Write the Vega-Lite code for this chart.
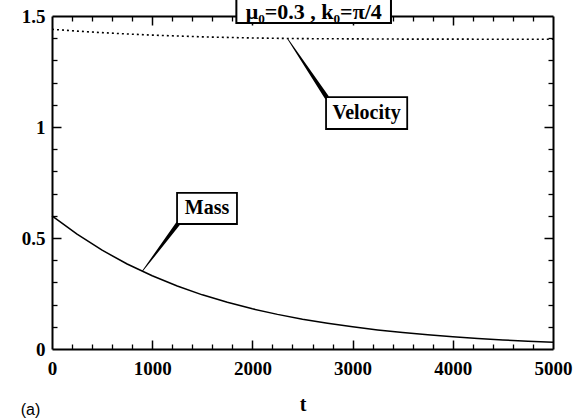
{
  "$schema": "https://vega.github.io/schema/vega-lite/v6.json",
  "width": 501,
  "height": 333,
  "autosize": "none",
  "padding": {"left": 52, "top": 16, "right": 26, "bottom": 69},
  "background": "white",
  "config": {"view": {"stroke": null}, "axis": {"grid": false}},
  "datasets": {
    "vel": [
      {"t": 0, "v": 1.440}, {"t": 250, "v": 1.432}, {"t": 500, "v": 1.425}, {"t": 750, "v": 1.419},
      {"t": 1000, "v": 1.414}, {"t": 1500, "v": 1.406}, {"t": 2000, "v": 1.401}, {"t": 2500, "v": 1.398},
      {"t": 3000, "v": 1.397}, {"t": 3500, "v": 1.396}, {"t": 4000, "v": 1.396}, {"t": 4500, "v": 1.395},
      {"t": 5000, "v": 1.395}
    ],
    "mass": [
      {"t": 0, "m": 0.600}, {"t": 250, "m": 0.517}, {"t": 500, "m": 0.445}, {"t": 750, "m": 0.383},
      {"t": 1000, "m": 0.330}, {"t": 1250, "m": 0.284}, {"t": 1500, "m": 0.244}, {"t": 1750, "m": 0.211},
      {"t": 2000, "m": 0.181}, {"t": 2250, "m": 0.156}, {"t": 2500, "m": 0.134}, {"t": 2750, "m": 0.116},
      {"t": 3000, "m": 0.100}, {"t": 3250, "m": 0.086}, {"t": 3500, "m": 0.074}, {"t": 3750, "m": 0.064},
      {"t": 4000, "m": 0.055}, {"t": 4250, "m": 0.047}, {"t": 4500, "m": 0.041}, {"t": 4750, "m": 0.035},
      {"t": 5000, "m": 0.030}
    ],
    "pointers": [
      {"id": "Velocity", "part": "tip", "t": 2355, "y": 1.395},
      {"id": "Velocity", "part": "base", "t": 2740, "y": 1.135},
      {"id": "Mass", "part": "tip", "t": 905, "y": 0.352},
      {"id": "Mass", "part": "base", "t": 1255, "y": 0.563}
    ],
    "boxes": [
      {"label": "Velocity", "t1": 2735, "t2": 3545, "y1": 0.991, "y2": 1.135, "tc": 3140, "yc": 1.063},
      {"label": "Mass", "t1": 1248, "t2": 1846, "y1": 0.563, "y2": 0.703, "tc": 1547, "yc": 0.633}
    ],
    "header": [
      {"label": "μ₀=0.3 , k₀=π/4", "t1": 1840, "t2": 3383, "y1": 1.468, "y2": 1.62, "tc": 2612, "yc": 1.516}
    ],
    "panel": [
      {"label": "(a)", "t": -215, "y": -0.238}
    ]
  },
  "layer": [
    {
      "data": {"name": "vel"},
      "mark": {"type": "line", "color": "black", "strokeWidth": 1.6, "strokeDash": [2, 3]},
      "encoding": {
        "x": {"field": "t", "type": "quantitative",
          "scale": {"domain": [0, 5000], "nice": false, "zero": false},
          "axis": {"orient": "bottom", "values": [0, 1000, 2000, 3000, 4000, 5000], "ticks": false,
            "domain": true, "domainColor": "black", "domainWidth": 2,
            "labelFont": "Liberation Serif, DejaVu Serif, serif", "labelFontWeight": "bold", "labelFontSize": 19, "labelColor": "black",
            "labelPadding": 10, "labelFlush": false, "format": "d",
            "title": "t", "titleFont": "Liberation Serif, DejaVu Serif, serif", "titleFontWeight": "bold", "titleFontSize": 20,
            "titleColor": "black", "titlePadding": 16}},
        "y": {"field": "v", "type": "quantitative",
          "scale": {"domain": [0, 1.5], "nice": false, "zero": false},
          "axis": {"orient": "left", "values": [0, 0.5, 1, 1.5], "ticks": false, "format": "~g",
            "domain": true, "domainColor": "black", "domainWidth": 2,
            "labelFont": "Liberation Serif, DejaVu Serif, serif", "labelFontWeight": "bold", "labelFontSize": 19, "labelColor": "black",
            "labelPadding": 7, "labelFlush": false, "title": null}}
      }
    },
    {
      "data": {"name": "mass"},
      "mark": {"type": "line", "color": "black", "strokeWidth": 1.5},
      "encoding": {
        "x": {"field": "t", "type": "quantitative",
          "scale": {"domain": [0, 5000], "nice": false, "zero": false},
          "axis": {"orient": "bottom", "values": [1000, 2000, 3000, 4000], "labels": false, "domain": false,
            "tickSize": -9, "tickColor": "black", "tickWidth": 1.5, "title": null}},
        "y": {"field": "m", "type": "quantitative",
          "scale": {"domain": [0, 1.5], "nice": false, "zero": false},
          "axis": {"orient": "left", "values": [0.5, 1], "labels": false, "domain": false,
            "tickSize": -9, "tickColor": "black", "tickWidth": 1.5, "title": null}}
      }
    },
    {
      "data": {"name": "pointers"},
      "mark": {"type": "trail", "color": "black"},
      "encoding": {
        "x": {"field": "t", "type": "quantitative",
          "scale": {"domain": [0, 5000], "nice": false, "zero": false},
          "axis": {"orient": "bottom",
            "values": [200, 400, 600, 800, 1200, 1400, 1600, 1800, 2200, 2400, 2600, 2800, 3200, 3400, 3600, 3800, 4200, 4400, 4600, 4800],
            "labels": false, "domain": false, "tickSize": -5, "tickColor": "black", "tickWidth": 1.3, "title": null}},
        "y": {"field": "y", "type": "quantitative",
          "scale": {"domain": [0, 1.5], "nice": false, "zero": false},
          "axis": {"orient": "left", "values": [0.1, 0.2, 0.3, 0.4, 0.6, 0.7, 0.8, 0.9, 1.1, 1.2, 1.3, 1.4],
            "labels": false, "domain": false, "tickSize": -5, "tickColor": "black", "tickWidth": 1.3, "title": null}},
        "detail": {"field": "id"},
        "size": {"field": "part", "type": "ordinal", "scale": {"domain": ["tip", "base"], "range": [0.8, 4.5]}, "legend": null}
      }
    },
    {
      "data": {"name": "boxes"},
      "mark": {"type": "rect", "fill": "white", "stroke": "black", "strokeWidth": 1.8},
      "encoding": {
        "x": {"field": "t1", "type": "quantitative",
          "scale": {"domain": [0, 5000], "nice": false, "zero": false},
          "axis": {"orient": "top", "values": [1000, 2000, 3000, 4000], "labels": false,
            "domain": true, "domainColor": "black", "domainWidth": 2,
            "tickSize": -9, "tickColor": "black", "tickWidth": 1.5, "title": null}},
        "x2": {"field": "t2"},
        "y": {"field": "y1", "type": "quantitative",
          "scale": {"domain": [0, 1.5], "nice": false, "zero": false},
          "axis": {"orient": "right", "values": [0.5, 1], "labels": false,
            "domain": true, "domainColor": "black", "domainWidth": 2,
            "tickSize": -9, "tickColor": "black", "tickWidth": 1.5, "title": null}},
        "y2": {"field": "y2"}
      }
    },
    {
      "data": {"name": "boxes"},
      "mark": {"type": "text", "font": "Liberation Serif, DejaVu Serif, serif", "fontWeight": "bold", "fontSize": 20,
        "color": "black", "align": "center", "baseline": "middle"},
      "encoding": {
        "x": {"field": "tc", "type": "quantitative",
          "scale": {"domain": [0, 5000], "nice": false, "zero": false},
          "axis": {"orient": "top",
            "values": [200, 400, 600, 800, 1200, 1400, 1600, 1800, 2200, 2400, 2600, 2800, 3200, 3400, 3600, 3800, 4200, 4400, 4600, 4800],
            "labels": false, "domain": false, "tickSize": -5, "tickColor": "black", "tickWidth": 1.3, "title": null}},
        "y": {"field": "yc", "type": "quantitative",
          "scale": {"domain": [0, 1.5], "nice": false, "zero": false},
          "axis": {"orient": "right", "values": [0.1, 0.2, 0.3, 0.4, 0.6, 0.7, 0.8, 0.9, 1.1, 1.2, 1.3, 1.4],
            "labels": false, "domain": false, "tickSize": -5, "tickColor": "black", "tickWidth": 1.3, "title": null}},
        "text": {"field": "label"}
      }
    },
    {
      "data": {"name": "header"},
      "mark": {"type": "rect", "fill": "white", "stroke": "black", "strokeWidth": 2},
      "encoding": {
        "x": {"field": "t1", "type": "quantitative", "scale": {"domain": [0, 5000], "nice": false, "zero": false}, "axis": null},
        "x2": {"field": "t2"},
        "y": {"field": "y1", "type": "quantitative", "scale": {"domain": [0, 1.5], "nice": false, "zero": false}, "axis": null},
        "y2": {"field": "y2"}
      }
    },
    {
      "data": {"name": "header"},
      "mark": {"type": "text", "font": "Liberation Serif, DejaVu Serif, serif", "fontWeight": "bold", "fontSize": 22,
        "color": "black", "align": "center", "baseline": "middle"},
      "encoding": {
        "x": {"field": "tc", "type": "quantitative", "scale": {"domain": [0, 5000], "nice": false, "zero": false}, "axis": null},
        "y": {"field": "yc", "type": "quantitative", "scale": {"domain": [0, 1.5], "nice": false, "zero": false}, "axis": null},
        "text": {"field": "label"}
      }
    },
    {
      "data": {"name": "panel"},
      "mark": {"type": "text", "font": "Liberation Sans", "fontSize": 16, "color": "black",
        "align": "center", "baseline": "top"},
      "encoding": {
        "x": {"field": "t", "type": "quantitative", "scale": {"domain": [0, 5000], "nice": false, "zero": false}, "axis": null},
        "y": {"field": "y", "type": "quantitative", "scale": {"domain": [0, 1.5], "nice": false, "zero": false}, "axis": null},
        "text": {"field": "label"}
      }
    }
  ],
  "resolve": {"axis": {"x": "independent", "y": "independent"}}
}
